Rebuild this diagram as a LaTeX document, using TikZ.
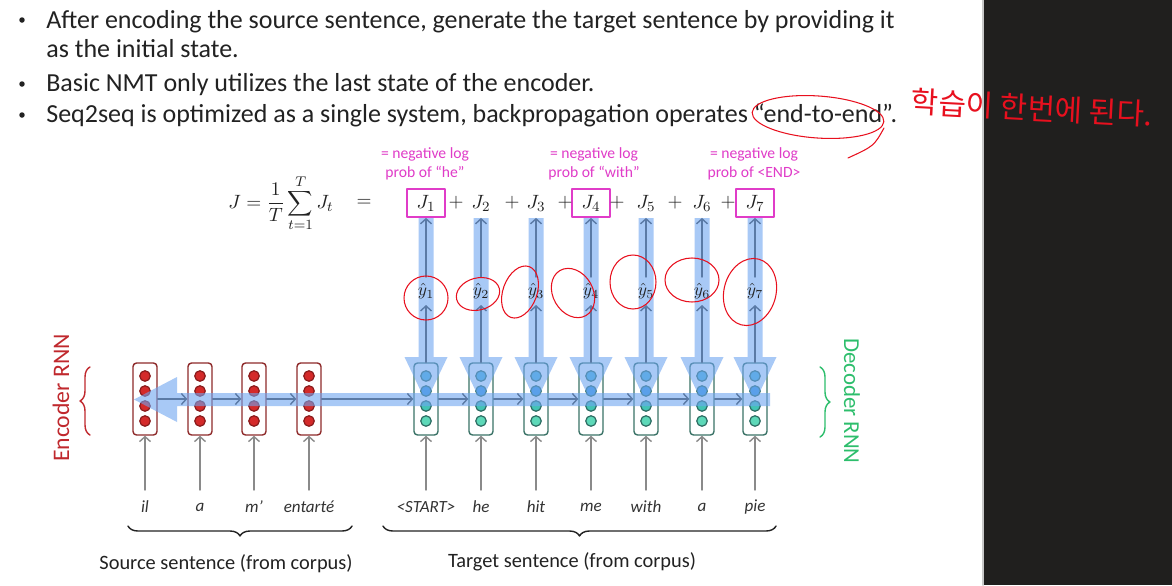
\documentclass[tikz,border=0pt]{standalone}
\usepackage{fontspec}
\setmainfont{Carlito}
\newfontfamily\kofont{Noto Sans CJK KR}
\usepackage{tikz}
\usetikzlibrary{arrows.meta,decorations.pathreplacing,positioning}
\definecolor{nmtInk}{HTML}{222222}
\definecolor{nmtWord}{HTML}{333333}
\definecolor{nmtBand}{HTML}{6FA5F0}
\definecolor{nmtLink}{HTML}{5A7AA6}
\definecolor{nmtInput}{HTML}{8A8A8A}
\definecolor{nmtMagenta}{HTML}{E03CC8}
\definecolor{nmtEncLine}{HTML}{8E2A2A}
\definecolor{nmtEncUnit}{HTML}{D42A2A}
\definecolor{nmtEncRim}{HTML}{8A1C1C}
\definecolor{nmtEncText}{HTML}{C0282D}
\definecolor{nmtDecLine}{HTML}{3A7266}
\definecolor{nmtDecRim}{HTML}{2E6E64}
\definecolor{nmtDecA}{HTML}{4DB5DD}
\definecolor{nmtDecB}{HTML}{3B9AE1}
\definecolor{nmtDecC}{HTML}{42C4B4}
\definecolor{nmtDecD}{HTML}{5DD8B8}
\definecolor{nmtDecText}{HTML}{2DBE6C}
\definecolor{nmtPen}{HTML}{E8101E}
\definecolor{nmtPanel}{HTML}{201F1E}
\definecolor{nmtPanelEdge}{HTML}{C8C8C8}
\tikzset{
  nmt diagram/.style={x=0.02cm, y=-0.02cm, line cap=round, line join=round},
  nmt bullet/.style={anchor=base west, inner sep=0pt, text=nmtInk,
    font=\fontsize{14.8pt}{17pt}\selectfont},
  nmt dot/.style={circle, fill=nmtInk, inner sep=0pt, minimum size=0.11cm},
  nmt cell/.style={draw, fill=white, rounded corners=2pt, line width=0.8pt,
    minimum width=0.48cm, minimum height=1.44cm, inner sep=0pt},
  nmt enc cell/.style={nmt cell, draw=nmtEncLine},
  nmt dec cell/.style={nmt cell, draw=nmtDecLine},
  nmt unit/.style={circle, line width=0.7pt, minimum size=0.21cm, inner sep=0pt},
  nmt band/.style={fill=nmtBand, fill opacity=0.6},
  nmt link/.style={-{Straight Barb[length=1mm,width=2.2mm]}, draw=nmtLink, line width=0.8pt},
  nmt input/.style={nmt link, draw=nmtInput},
  nmt loss/.style={draw=nmtMagenta, line width=1pt, minimum width=0.76cm,
    minimum height=0.56cm},
  nmt math/.style={text=nmtInk, font=\fontsize{11pt}{13pt}\selectfont},
  nmt note/.style={text=nmtMagenta, align=center, inner sep=0pt,
    font=\fontsize{8.9pt}{10.6pt}\selectfont},
  nmt word/.style={text=nmtWord, font=\fontsize{9.7pt}{11pt}\selectfont\itshape},
  nmt caption/.style={text=nmtInk, font=\fontsize{11.6pt}{13pt}\selectfont},
  nmt brace/.style={decorate, decoration={brace, amplitude=0.2cm}, line width=0.8pt},
  nmt pen/.style={draw=nmtPen, line width=0.6pt}
}
\begin{document}
\begin{tikzpicture}[nmt diagram]
\useasboundingbox (0,0) rectangle (1172,585);
\fill[white] (0,0) rectangle (1172,585);
\fill[nmtPanel] (984,0) rectangle (1172,585);
\draw[nmtPanelEdge, line width=1pt] (983,0) -- (983,585);
% bullet points
\foreach \y [count=\i] in {20,84,115}
  \node[nmt dot] (dot\i) at (22,\y) {};
\node[nmt bullet] (line1) at (46,28) {After encoding the source sentence, generate the target sentence by providing it};
\node[nmt bullet] (line2) at (46,57) {as the initial state.};
\node[nmt bullet] (line3) at (46,91) {Basic NMT only utilizes the last state of the encoder.};
\node[nmt bullet] (line4) at (46,122) {Seq2seq is optimized as a single system, backpropagation operates “end-to-end”.};
% encoder and decoder cells
\foreach \x [count=\i] in {145,200,254,309}{
  \node[nmt enc cell] (enc\i) at (\x,399) {};
  \foreach \y [count=\j] in {376,391,406,421}
    \node[nmt unit, fill=nmtEncUnit, draw=nmtEncRim] (enc\i u\j) at (\x,\y) {};
}
\foreach \x [count=\i] in {426,481,536,591,646,702,755}{
  \node[nmt dec cell] (dec\i) at (\x,399) {};
  \foreach \y/\c [count=\j] in {376/nmtDecA,391/nmtDecB,406/nmtDecC,421/nmtDecD}
    \node[nmt unit, fill=\c, draw=nmtDecRim] (dec\i u\j) at (\x,\y) {};
}
% wide flow bands
\fill[nmt band] (134,399.5) -- (177,377) -- (177,393) -- (770,393) -- (770,406)
    -- (177,406) -- (177,422) -- cycle
  foreach \x in {426,481,536,591,646,702,755}{
    (\x-7.5,218) -- (\x+7.5,218) -- (\x+7.5,357) -- (\x+21.5,357) -- (\x,402)
    -- (\x-21.5,357) -- (\x-7.5,357) -- cycle};
% loss terms
\node[nmt math] (loss) at (281,203) {$\displaystyle J=\frac{1}{T}\sum_{t=1}^{T}J_t$};
\node[nmt math] (eq) at (364,203) {$=$};
\foreach \x [count=\i] in {426,481,536,591,646,702,755}
  \node[nmt math] (J\i) at (\x,203) {$J_{\i}$};
\foreach \i in {1,4,7}
  \node[nmt loss] (box\i) at (J\i) {};
\foreach \x [count=\i] in {456,512,565,617,675,728}
  \node[nmt math] (plus\i) at (\x,203) {$+$};
\node[nmt note] (note1) at (425,164) {= negative log\\prob of “he”};
\node[nmt note] (note4) at (594,164) {= negative log\\prob of “with”};
\node[nmt note] (note7) at (754,164) {= negative log\\prob of <END>};
% outputs
\foreach \x [count=\i] in {426,481,536,591,646,702,755}{
  \node[nmt math, font=\fontsize{10pt}{12pt}\selectfont] (yh\i) at (\x,291) {$\hat{y}_{\i}$};
  \draw[nmt link] (dec\i.north) -- (yh\i.south);
  \draw[nmt link] (yh\i.north) -- (J\i |- box1.south);
}
% recurrent links
\foreach \i/\k in {1/2,2/3,3/4}
  \draw[nmt link] (enc\i.east) -- (enc\k.west);
\draw[nmt link] (enc4.east) -- (dec1.west);
\foreach \i/\k in {1/2,2/3,3/4,4/5,5/6,6/7}
  \draw[nmt link] (dec\i.east) -- (dec\k.west);
% input words
\foreach \x/\w [count=\i] in {145/il,200/a,254/m’,309/entarté}{
  \node[nmt word] (src\i) at (\x,507) {\w};
  \draw[nmt input] (\x,490) -- (enc\i.south);
}
\foreach \x/\w [count=\i] in {426/<START>,481/he,536/hit,591/me,646/with,702/a,755/pie}{
  \node[nmt word] (tgt\i) at (\x,507) {\w};
  \draw[nmt input] (\x,490) -- (dec\i.south);
}
% braces and captions
\draw[nmt brace, draw=nmtInk] (352,526) -- (128,526);
\draw[nmt brace, draw=nmtInk] (776,526) -- (383,526);
\node[nmt caption] (srcText) at (226,564) {Source sentence (from corpus)};
\node[nmt caption] (tgtText) at (572,562) {Target sentence (from corpus)};
\draw[nmt brace, draw=nmtEncText] (90,435) -- (90,367);
\draw[nmt brace, draw=nmtDecText] (820,367) -- (820,437);
\node[nmt caption, text=nmtEncText, font=\fontsize{13.5pt}{15pt}\selectfont, rotate=90] (encText) at (61,398) {Encoder RNN};
\node[nmt caption, text=nmtDecText, font=\fontsize{13pt}{15pt}\selectfont, rotate=-90] (decText) at (852,401) {Decoder RNN};
% handwritten notes
\draw[nmt pen, rotate around={-4:(818,117)}] (818,117) ellipse [x radius=66, y radius=21];
\draw[nmt pen] (884,128) .. controls (874,146) .. (848,158);
\node[text=nmtPen, font=\fontsize{17pt}{19pt}\selectfont\kofont, rotate=-3] (penNote) at (1032,108) {학습이 한번에 된다.};
\draw[nmt pen] (426,298) ellipse [x radius=22, y radius=22];
\draw[nmt pen, rotate around={15:(478,294)}] (478,294) ellipse [x radius=22, y radius=16];
\draw[nmt pen, rotate around={-20:(520,292)}] (520,292) ellipse [x radius=17, y radius=27];
\draw[nmt pen, rotate around={30:(573,293)}] (573,293) ellipse [x radius=20, y radius=26];
\draw[nmt pen] (633,282) ellipse [x radius=23, y radius=27];
\draw[nmt pen] (692,280) ellipse [x radius=27, y radius=22];
\draw[nmt pen, rotate around={-15:(750,292)}] (750,292) ellipse [x radius=26, y radius=34];
\end{tikzpicture}
\end{document}
